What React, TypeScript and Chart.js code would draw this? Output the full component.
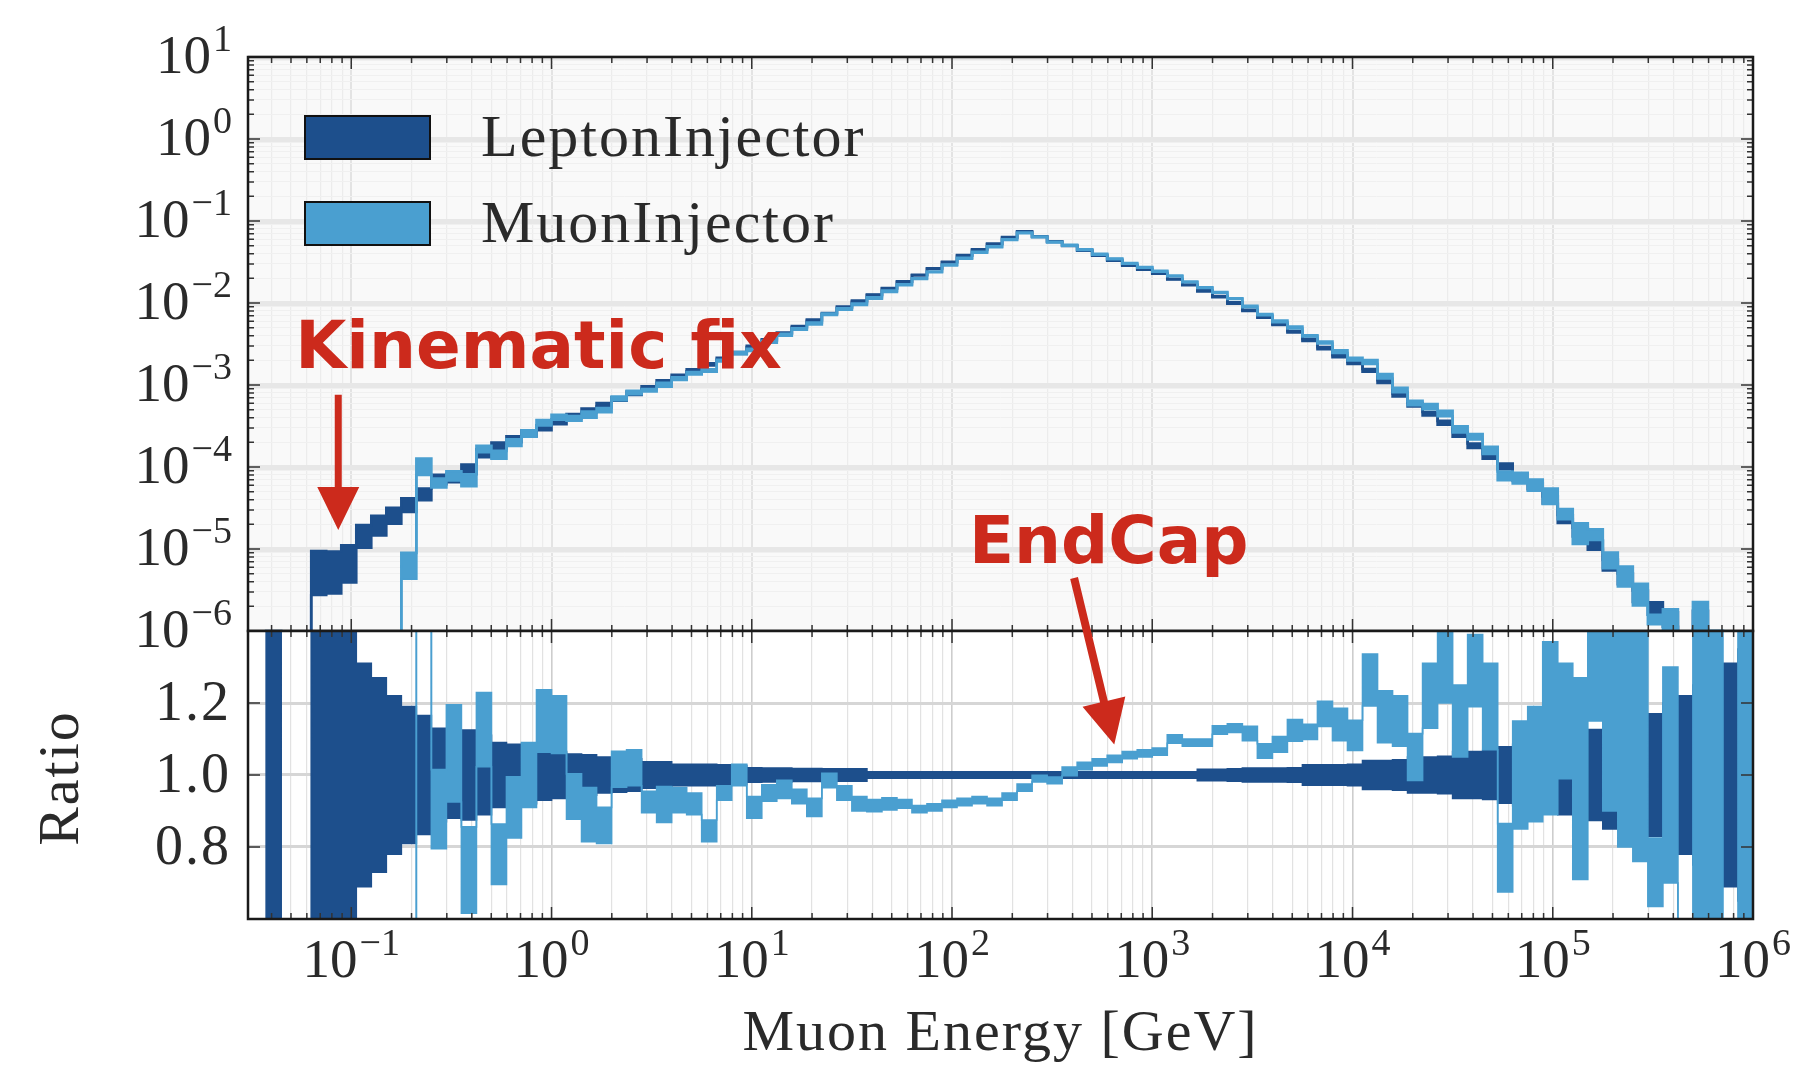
import React, { useEffect, useRef } from "react";
import { Chart, registerables } from "chart.js";

Chart.register(...registerables);

// ------------------------------------------------------------------
// Data
// ------------------------------------------------------------------
const SERIES_NAMES = ["LeptonInjector", "MuonInjector"];
const X_TITLE = "Muon Energy [GeV]";
const RATIO_TITLE = "Ratio";

// histogram binning: 100 log-uniform bins from 10^-1.5 to 10^6 GeV
const BIN_LOG_START = -1.5;
const BIN_LOG_WIDTH = 0.075;
const BIN_COUNT = 100;

const X_AXIS_MIN = 0.0305;
const X_AXIS_MAX = 1e6;
const X_DECADES = [-1, 0, 1, 2, 3, 4, 5, 6];
const Y_DECADES = [-6, -5, -4, -3, -2, -1, 0, 1];
const RATIO_TICKS = [0.8, 1.0, 1.2];
const RATIO_TICK_LABELS = ["0.8", "1.0", "1.2"];
const RATIO_MIN = 0.6;
const RATIO_MAX = 1.4;

// LeptonInjector rate per bin (null = empty bin)
const LEPTON_RATE = [
  null, 5e-7, null, null, 6.1e-6, 6.1e-6, 7.5e-6, 1.5e-5, 2.0e-5, 2.6e-5,
  3.5e-5, 4.7e-5, 7.1e-5, 7.4e-5, 9.5e-5, 1.48e-4, 1.82e-4, 2.19e-4, 2.57e-4, 3.02e-4,
  3.55e-4, 4.17e-4, 4.9e-4, 5.75e-4, 6.76e-4, 7.94e-4, 9.33e-4, 1.10e-3, 1.29e-3, 1.51e-3,
  1.78e-3, 2.09e-3, 2.45e-3, 2.95e-3, 3.55e-3, 4.27e-3, 5.13e-3, 6.17e-3, 7.41e-3, 8.91e-3,
  1.05e-2, 1.26e-2, 1.51e-2, 1.82e-2, 2.19e-2, 2.63e-2, 3.16e-2, 3.80e-2, 4.47e-2, 5.25e-2,
  6.31e-2, 7.41e-2, 6.46e-2, 5.62e-2, 5.01e-2, 4.37e-2, 3.80e-2, 3.31e-2, 2.88e-2, 2.57e-2,
  2.29e-2, 1.95e-2, 1.66e-2, 1.41e-2, 1.20e-2, 1.00e-2, 8.13e-3, 6.76e-3, 5.50e-3, 4.47e-3,
  3.55e-3, 2.82e-3, 2.24e-3, 1.86e-3, 1.51e-3, 1.10e-3, 7.59e-4, 5.75e-4, 4.47e-4, 3.47e-4,
  2.51e-4, 1.82e-4, 1.35e-4, 1.02e-4, 7.41e-5, 5.89e-5, 3.98e-5, 2.34e-5, 1.62e-5, 1.12e-5,
  6.46e-6, 4.37e-6, 2.69e-6, 1.91e-6, 1.41e-6, 8.0e-7, 1.41e-6, 6.3e-7, 5.0e-7, 4.0e-7,
];

// LeptonInjector relative statistical error per bin
const LEPTON_REL_ERR = [
  0, 1.0, 0, 0, 0.55, 0.53, 0.48, 0.31, 0.27, 0.22,
  0.19, 0.165, 0.13, 0.12, 0.125, 0.11, 0.09, 0.085, 0.08, 0.07,
  0.065, 0.058, 0.056, 0.05, 0.048, 0.045, 0.037, 0.037, 0.03, 0.03,
  0.03, 0.028, 0.026, 0.02, 0.019, 0.019, 0.018, 0.018, 0.017, 0.017,
  0.017, 0.009, 0.009, 0.009, 0.009, 0.009, 0.009, 0.009, 0.009, 0.009,
  0.009, 0.009, 0.009, 0.009, 0.009, 0.009, 0.009, 0.009, 0.009, 0.009,
  0.009, 0.009, 0.009, 0.016, 0.016, 0.017, 0.019, 0.019, 0.019, 0.02,
  0.028, 0.028, 0.028, 0.03, 0.04, 0.04, 0.042, 0.05, 0.05, 0.052,
  0.065, 0.065, 0.068, 0.078, 0.085, 0.09, 0.1, 0.11, 0.12, 0.126,
  0.15, 0.15, 0.16, 0.17, 0.2, 0.22, 0.25, 0.28, 0.31, 0.35,
];

// MuonInjector / LeptonInjector ratio per bin (null = no MuonInjector events)
const MUON_RATIO = [
  null, null, null, null, null, null, null, null, null, null,
  0.19, 2.2, 0.905, 1.06, 0.736, 1.126, 0.78, 0.91, 1.0, 1.15,
  1.14, 0.94, 0.89, 0.86, 1.016, 1.02, 0.925, 0.918, 0.93, 0.92,
  0.845, 0.95, 1.0, 0.91, 0.95, 0.96, 0.94, 0.91, 0.985, 0.95,
  0.92, 0.915, 0.92, 0.92, 0.905, 0.91, 0.92, 0.925, 0.93, 0.925,
  0.94, 0.965, 0.99, 0.985, 1.01, 1.025, 1.035, 1.045, 1.055, 1.06,
  1.065, 1.1, 1.09, 1.09, 1.125, 1.13, 1.115, 1.067, 1.085, 1.124,
  1.12, 1.17, 1.14, 1.11, 1.264, 1.162, 1.15, 1.05, 1.22, 1.3,
  1.15, 1.29, 1.19, 0.77, 1.0, 1.03, 1.13, 1.15, 0.99, 1.35,
  1.15, 1.1, 1.08, 0.73, 1.0, null, 1.0, 1.0, null, 1.0,
];

// half-width of the MuonInjector ratio error band per bin
const MUON_RATIO_ERR = [
  0, 0, 0, 0, 0, 0, 0, 0, 0, 0,
  0.066, 0.5, 0.11, 0.135, 0.12, 0.103, 0.084, 0.085, 0.09, 0.087,
  0.08, 0.063, 0.075, 0.05, 0.05, 0.05, 0.03, 0.05, 0.035, 0.03,
  0.03, 0.02, 0.03, 0.03, 0.023, 0.025, 0.02, 0.025, 0.02, 0.02,
  0.02, 0.017, 0.017, 0.012, 0.01, 0.01, 0.01, 0.01, 0.01, 0.01,
  0.01, 0.01, 0.009, 0.009, 0.012, 0.01, 0.01, 0.01, 0.01, 0.01,
  0.01, 0.012, 0.01, 0.01, 0.012, 0.012, 0.02, 0.02, 0.022, 0.03,
  0.021, 0.035, 0.045, 0.042, 0.072, 0.072, 0.07, 0.065, 0.09, 0.1,
  0.1, 0.1, 0.12, 0.095, 0.15, 0.16, 0.24, 0.16, 0.28, 0.2,
  0.25, 0.3, 0.32, 0.095, 0.3, 0, 0.6, 0.6, 0, 0.6,
];

// annotations (data coordinates)
const KINEMATIC_TEXT = "Kinematic fix";
const KINEMATIC_TEXT_AT = { x: 0.0525, y: 1.61e-3 };
const KINEMATIC_ARROW = { x: 0.0861, fromY: 7.6e-4, toY: 1.7e-5 };
const ENDCAP_TEXT = "EndCap";
const ENDCAP_TEXT_AT = { x: 121.6, y: 6.76e-6 };
const ENDCAP_ARROW = { fromX: 407, fromY: 4.43e-6, toX: 646, toRatio: 1.085 };

// ------------------------------------------------------------------
// Styling
// ------------------------------------------------------------------
const DARK = "#1d4f8c";
const LIGHT = "#4a9fd0";
const RED = "#cc2a1c";
const TEXT = "#2a2a2a";
const SERIF = '"Liberation Serif", "DejaVu Serif", serif';

const W = 1794;
const H = 1072;
const TOP_CANVAS_H = 680;
const BOT_TOP = 621;
const BOT_CANVAS_H = 451;

// ------------------------------------------------------------------
// Derived tables
// ------------------------------------------------------------------
const EDGES = Array.from({ length: BIN_COUNT + 1 }, (_, i) =>
  Math.pow(10, BIN_LOG_START + i * BIN_LOG_WIDTH)
);

function logTicks(loExp: number, hiExp: number) {
  const out: number[] = [];
  for (let e = loExp; e < hiExp; e++) {
    for (let m = 1; m <= 9; m++) out.push(m * Math.pow(10, e));
  }
  out.push(Math.pow(10, hiExp));
  return out;
}
const X_TICK_VALUES = logTicks(X_DECADES[0] - 1, X_DECADES[X_DECADES.length - 1]).filter(
  (v) => v >= X_AXIS_MIN && v <= X_AXIS_MAX
);
const Y_TICK_VALUES = logTicks(Y_DECADES[0], Y_DECADES[Y_DECADES.length - 1]);

const isDecade = (v: number) => {
  if (!(v > 0)) return false;
  const l = Math.log10(v);
  return Math.abs(l - Math.round(l)) < 1e-9;
};

const LOG_FLOOR = 1e-12;
const RATIO_FLOOR = -10;

const leptonHi = LEPTON_RATE.map((v, i) => (v == null ? LOG_FLOOR : v * (1 + LEPTON_REL_ERR[i])));
const leptonLo = LEPTON_RATE.map((v, i) =>
  v == null ? LOG_FLOOR : Math.max(v * (1 - LEPTON_REL_ERR[i]), LOG_FLOOR)
);
const muonHi = MUON_RATIO.map((r, i) => {
  const l = LEPTON_RATE[i];
  return r == null || l == null ? LOG_FLOOR : l * (r + MUON_RATIO_ERR[i]);
});
const muonLo = MUON_RATIO.map((r, i) => {
  const l = LEPTON_RATE[i];
  return r == null || l == null ? LOG_FLOOR : Math.max(l * (r - MUON_RATIO_ERR[i]), LOG_FLOOR);
});
const ratioLeptonHi = LEPTON_RATE.map((v, i) => (v == null ? RATIO_FLOOR : 1 + LEPTON_REL_ERR[i]));
const ratioLeptonLo = LEPTON_RATE.map((v, i) => (v == null ? RATIO_FLOOR : 1 - LEPTON_REL_ERR[i]));
const ratioMuonHi = MUON_RATIO.map((r, i) => (r == null ? RATIO_FLOOR : r + MUON_RATIO_ERR[i]));
const ratioMuonLo = MUON_RATIO.map((r, i) => (r == null ? RATIO_FLOOR : r - MUON_RATIO_ERR[i]));

function stepPoints(vals: number[]) {
  return EDGES.map((x, i) => ({ x, y: vals[Math.min(i, BIN_COUNT - 1)] }));
}

function band(label: string, vals: number[], color: string, fillToNext: boolean, bw: number) {
  return {
    label,
    data: stepPoints(vals),
    borderColor: color,
    backgroundColor: color,
    borderWidth: bw,
    stepped: "before",
    fill: fillToNext ? "+1" : false,
    pointRadius: 0,
    pointHoverRadius: 0,
    tension: 0,
    clip: 0,
  };
}

// ------------------------------------------------------------------
// Drawing helpers
// ------------------------------------------------------------------
function setSpacing(ctx: any, px: number) {
  try {
    ctx.letterSpacing = px + "px";
  } catch (e) {
    /* ignore */
  }
}

function drawPow10(ctx: CanvasRenderingContext2D, exp: number, x: number, y: number, align: string) {
  const base = "10";
  const sup = exp < 0 ? "\u2212" + String(-exp) : String(exp);
  setSpacing(ctx, 0);
  ctx.font = "55px " + SERIF;
  const wb = ctx.measureText(base).width;
  ctx.font = "38px " + SERIF;
  const ws = ctx.measureText(sup).width;
  const gap = 2;
  const total = wb + gap + ws;
  const x0 = align === "center" ? x - total / 2 : x - total;
  ctx.textAlign = "left";
  ctx.textBaseline = "middle";
  ctx.fillStyle = TEXT;
  ctx.font = "55px " + SERIF;
  ctx.fillText(base, x0, y);
  ctx.font = "38px " + SERIF;
  ctx.fillText(sup, x0 + wb + gap, y - 18);
}

function drawFrame(
  ctx: CanvasRenderingContext2D,
  a: any,
  xs: number[][],
  ys: number[][]
) {
  ctx.save();
  ctx.strokeStyle = "#333";
  ctx.lineWidth = 1.5;
  ctx.beginPath();
  for (const [px, major] of xs) {
    const len = major ? 12 : 6;
    ctx.moveTo(px, a.bottom);
    ctx.lineTo(px, a.bottom - len);
    ctx.moveTo(px, a.top);
    ctx.lineTo(px, a.top + len);
  }
  for (const [py, major] of ys) {
    const len = major ? 12 : 6;
    ctx.moveTo(a.left, py);
    ctx.lineTo(a.left + len, py);
    ctx.moveTo(a.right, py);
    ctx.lineTo(a.right - len, py);
  }
  ctx.stroke();
  ctx.strokeStyle = "#1a1a1a";
  ctx.lineWidth = 2.5;
  ctx.strokeRect(a.left, a.top, a.right - a.left, a.bottom - a.top);
  ctx.restore();
}

function drawArrow(
  ctx: CanvasRenderingContext2D,
  x1: number,
  y1: number,
  x2: number,
  y2: number,
  shaft: number,
  headLen: number,
  headHalf: number
) {
  const dx = x2 - x1;
  const dy = y2 - y1;
  const len = Math.hypot(dx, dy);
  const ux = dx / len;
  const uy = dy / len;
  const px = -uy;
  const py = ux;
  const bx = x2 - ux * headLen;
  const by = y2 - uy * headLen;
  ctx.beginPath();
  ctx.moveTo(x1 + (px * shaft) / 2, y1 + (py * shaft) / 2);
  ctx.lineTo(bx + (px * shaft) / 2, by + (py * shaft) / 2);
  ctx.lineTo(bx + px * headHalf, by + py * headHalf);
  ctx.lineTo(x2, y2);
  ctx.lineTo(bx - px * headHalf, by - py * headHalf);
  ctx.lineTo(bx - (px * shaft) / 2, by - (py * shaft) / 2);
  ctx.lineTo(x1 - (px * shaft) / 2, y1 - (py * shaft) / 2);
  ctx.closePath();
  ctx.fill();
}

// ------------------------------------------------------------------
// Chart configs
// ------------------------------------------------------------------
const topDecor = {
  id: "topDecor",
  beforeDraw(chart: any) {
    const a = chart.chartArea;
    const ctx = chart.ctx;
    ctx.save();
    ctx.fillStyle = "#f9f9f9";
    ctx.fillRect(a.left, a.top, a.right - a.left, a.bottom - a.top);
    ctx.restore();
  },
  afterDraw(chart: any) {
    const ctx = chart.ctx;
    const a = chart.chartArea;
    const xs = chart.scales.x;
    const ys = chart.scales.y;
    drawFrame(
      ctx,
      a,
      X_TICK_VALUES.map((v) => [xs.getPixelForValue(v), isDecade(v) ? 1 : 0]),
      Y_TICK_VALUES.map((v) => [ys.getPixelForValue(v), isDecade(v) ? 1 : 0])
    );
    ctx.save();
    for (const d of Y_DECADES) {
      drawPow10(ctx, d, a.left - 16, ys.getPixelForValue(Math.pow(10, d)) + 2, "right");
    }
    // legend
    const colors = [DARK, LIGHT];
    SERIES_NAMES.forEach((name, i) => {
      const bx = a.left + 57;
      const by = a.top + 59 + i * 86;
      ctx.fillStyle = colors[i];
      ctx.fillRect(bx, by, 125, 43);
      ctx.strokeStyle = "#111";
      ctx.lineWidth = 2;
      ctx.strokeRect(bx, by, 125, 43);
      ctx.fillStyle = TEXT;
      ctx.font = "60px " + SERIF;
      setSpacing(ctx, 2);
      ctx.textAlign = "left";
      ctx.textBaseline = "middle";
      ctx.fillText(name, a.left + 233, by + 24);
      setSpacing(ctx, 0);
    });
    ctx.restore();
  },
};

const botDecor = {
  id: "botDecor",
  beforeDraw(chart: any) {
    const a = chart.chartArea;
    const ctx = chart.ctx;
    ctx.save();
    ctx.fillStyle = "#ffffff";
    ctx.fillRect(a.left, a.top, a.right - a.left, a.bottom - a.top);
    ctx.restore();
  },
  afterDraw(chart: any) {
    const ctx = chart.ctx;
    const a = chart.chartArea;
    const xs = chart.scales.x;
    const ys = chart.scales.y;
    drawFrame(
      ctx,
      a,
      X_TICK_VALUES.map((v) => [xs.getPixelForValue(v), isDecade(v) ? 1 : 0]),
      RATIO_TICKS.map((v) => [ys.getPixelForValue(v), 1])
    );
    ctx.save();
    for (const d of X_DECADES) {
      drawPow10(ctx, d, xs.getPixelForValue(Math.pow(10, d)), a.bottom + 44, "center");
    }
    ctx.fillStyle = TEXT;
    ctx.font = "56px " + SERIF;
    setSpacing(ctx, 2);
    ctx.textAlign = "right";
    ctx.textBaseline = "middle";
    RATIO_TICKS.forEach((v, i) => {
      ctx.fillText(RATIO_TICK_LABELS[i], a.left - 17, ys.getPixelForValue(v) + 2);
    });
    ctx.font = "58px " + SERIF;
    ctx.textAlign = "center";
    ctx.fillText(X_TITLE, (a.left + a.right) / 2 + 0, a.bottom + 116);
    ctx.save();
    ctx.translate(63, a.top + 147);
    ctx.rotate(-Math.PI / 2);
    ctx.fillText(RATIO_TITLE, 0, 0);
    ctx.restore();
    setSpacing(ctx, 0);
    ctx.restore();
  },
};

function xScaleOptions(majorColor: string, minorColor: string, majorW: number, minorW: number) {
  return {
    type: "logarithmic",
    min: X_AXIS_MIN,
    max: X_AXIS_MAX,
    afterBuildTicks: (s: any) => {
      s.ticks = X_TICK_VALUES.map((v) => ({ value: v, major: isDecade(v) }));
    },
    afterFit: (s: any) => {
      s.height = 0;
    },
    ticks: { display: false, autoSkip: false, callback: () => "" },
    border: { display: false },
    grid: {
      drawTicks: false,
      color: (c: any) => (c.tick && isDecade(c.tick.value) ? majorColor : minorColor),
      lineWidth: (c: any) => (c.tick && isDecade(c.tick.value) ? majorW : minorW),
    },
  };
}

function topConfig(): any {
  return {
    type: "line",
    data: {
      datasets: [
        band(SERIES_NAMES[1] + " hi", muonHi, LIGHT, true, 2.6),
        band(SERIES_NAMES[1] + " lo", muonLo, LIGHT, false, 2.6),
        band(SERIES_NAMES[0] + " hi", leptonHi, DARK, true, 2.6),
        band(SERIES_NAMES[0] + " lo", leptonLo, DARK, false, 2.6),
      ],
    },
    options: {
      responsive: false,
      animation: false,
      devicePixelRatio: 1,
      events: [],
      layout: { padding: { left: 248, right: W - 1753, top: 57, bottom: TOP_CANVAS_H - 631 } },
      plugins: { legend: { display: false }, tooltip: { enabled: false }, title: { display: false } },
      scales: {
        x: xScaleOptions("#e3e3e3", "#ececec", 2, 1.2),
        y: {
          type: "logarithmic",
          min: Math.pow(10, Y_DECADES[0]),
          max: Math.pow(10, Y_DECADES[Y_DECADES.length - 1]),
          afterBuildTicks: (s: any) => {
            s.ticks = Y_TICK_VALUES.map((v) => ({ value: v, major: isDecade(v) }));
          },
          afterFit: (s: any) => {
            s.width = 0;
          },
          ticks: { display: false, autoSkip: false, callback: () => "" },
          border: { display: false },
          grid: {
            drawTicks: false,
            color: (c: any) => (c.tick && isDecade(c.tick.value) ? "#e7e7e7" : "#f0f0f0"),
            lineWidth: (c: any) => (c.tick && isDecade(c.tick.value) ? 5 : 1),
          },
        },
      },
    },
    plugins: [topDecor],
  };
}

function botConfig(): any {
  return {
    type: "line",
    data: {
      datasets: [
        band(SERIES_NAMES[1] + " ratio hi", ratioMuonHi, LIGHT, true, 1.6),
        band(SERIES_NAMES[1] + " ratio lo", ratioMuonLo, LIGHT, false, 1.6),
        band(SERIES_NAMES[0] + " ratio hi", ratioLeptonHi, DARK, true, 1.6),
        band(SERIES_NAMES[0] + " ratio lo", ratioLeptonLo, DARK, false, 1.6),
      ],
    },
    options: {
      responsive: false,
      animation: false,
      devicePixelRatio: 1,
      events: [],
      layout: { padding: { left: 248, right: W - 1753, top: 631 - BOT_TOP, bottom: BOT_CANVAS_H - (919 - BOT_TOP) } },
      plugins: { legend: { display: false }, tooltip: { enabled: false }, title: { display: false } },
      scales: {
        x: xScaleOptions("#cdcdcd", "#e2e2e2", 1.6, 1.2),
        y: {
          type: "linear",
          min: RATIO_MIN,
          max: RATIO_MAX,
          afterBuildTicks: (s: any) => {
            s.ticks = RATIO_TICKS.map((v) => ({ value: v }));
          },
          afterFit: (s: any) => {
            s.width = 0;
          },
          ticks: { display: false, autoSkip: false, callback: () => "" },
          border: { display: false },
          grid: { drawTicks: false, color: "#d6d6d6", lineWidth: 3 },
        },
      },
    },
    plugins: [botDecor],
  };
}

function drawOverlay(canvas: HTMLCanvasElement, top: any, bot: any) {
  const ctx = canvas.getContext("2d");
  if (!ctx) return;
  ctx.clearRect(0, 0, canvas.width, canvas.height);
  const tx = (v: number) => top.scales.x.getPixelForValue(v);
  const ty = (v: number) => top.scales.y.getPixelForValue(v);
  const bx = (v: number) => bot.scales.x.getPixelForValue(v);
  const by = (v: number) => bot.scales.y.getPixelForValue(v) + BOT_TOP;
  ctx.fillStyle = RED;
  ctx.font = 'bold 66px "DejaVu Sans", sans-serif';
  ctx.textAlign = "left";
  ctx.textBaseline = "alphabetic";
  ctx.fillText(KINEMATIC_TEXT, tx(KINEMATIC_TEXT_AT.x), ty(KINEMATIC_TEXT_AT.y));
  ctx.fillText(ENDCAP_TEXT, tx(ENDCAP_TEXT_AT.x), ty(ENDCAP_TEXT_AT.y));
  drawArrow(
    ctx,
    tx(KINEMATIC_ARROW.x),
    ty(KINEMATIC_ARROW.fromY),
    tx(KINEMATIC_ARROW.x),
    ty(KINEMATIC_ARROW.toY),
    7,
    43,
    21
  );
  drawArrow(
    ctx,
    tx(ENDCAP_ARROW.fromX),
    ty(ENDCAP_ARROW.fromY),
    bx(ENDCAP_ARROW.toX),
    by(ENDCAP_ARROW.toRatio),
    8,
    44,
    22
  );
}

export default function App() {
  const topRef = useRef<HTMLCanvasElement>(null);
  const botRef = useRef<HTMLCanvasElement>(null);
  const overRef = useRef<HTMLCanvasElement>(null);

  useEffect(() => {
    const top = new Chart(topRef.current as HTMLCanvasElement, topConfig());
    const bot = new Chart(botRef.current as HTMLCanvasElement, botConfig());
    drawOverlay(overRef.current as HTMLCanvasElement, top, bot);
    return () => {
      top.destroy();
      bot.destroy();
    };
  }, []);

  return (
    <div
      style={{
        position: "absolute",
        left: 0,
        top: 0,
        width: W,
        height: H,
        background: "#ffffff",
        overflow: "hidden",
      }}
    >
      <canvas
        ref={topRef}
        width={W}
        height={TOP_CANVAS_H}
        style={{ position: "absolute", left: 0, top: 0, width: W, height: TOP_CANVAS_H }}
      />
      <canvas
        ref={botRef}
        width={W}
        height={BOT_CANVAS_H}
        style={{ position: "absolute", left: 0, top: BOT_TOP, width: W, height: BOT_CANVAS_H }}
      />
      <canvas
        ref={overRef}
        width={W}
        height={H}
        style={{ position: "absolute", left: 0, top: 0, width: W, height: H, pointerEvents: "none" }}
      />
    </div>
  );
}
